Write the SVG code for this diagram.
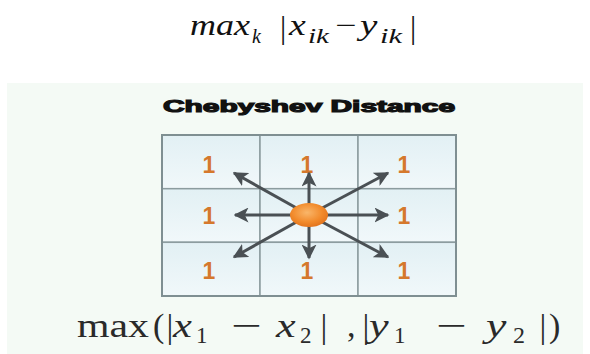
<svg xmlns="http://www.w3.org/2000/svg" width="590" height="354" viewBox="0 0 590 354">
  <defs>
    <linearGradient id="cellFill" x1="0" y1="0" x2="0" y2="1">
      <stop offset="0" stop-color="#e2f0f4"/>
      <stop offset="1" stop-color="#f1f8fa"/>
    </linearGradient>
    <radialGradient id="ballFill" cx="0.45" cy="0.4" r="0.65">
      <stop offset="0" stop-color="#f9b66a"/>
      <stop offset="0.6" stop-color="#f28b2c"/>
      <stop offset="1" stop-color="#e0701a"/>
    </radialGradient>
    <marker id="ah" viewBox="0 0 10 10" refX="9" refY="5" markerWidth="5" markerHeight="5" orient="auto" markerUnits="strokeWidth">
      <path d="M0,0 L10,5 L0,10 L2.5,5 Z" fill="#4a5054"/>
    </marker>
    <style>
      .cell { fill: url(#cellFill); stroke: #8c9c9f; stroke-width: 1.5; }
      .one { font-family: "Liberation Sans", Arial, sans-serif; font-weight: bold; font-size: 23px; fill: #d5782c; text-anchor: middle; }
      .arrow { stroke: #4a5054; stroke-width: 3; fill: none; marker-end: url(#ah); }
      .cm { font-family: "Liberation Serif", "DejaVu Serif", serif; fill: #2a2a2a; }
      .mi { font-family: "Liberation Serif", "DejaVu Serif", serif; font-style: italic; fill: #2a2a2a; }
      .tm { font-family: "Liberation Serif", "DejaVu Serif", serif; font-style: italic; fill: #111; }
      .tc { font-family: "Liberation Serif", "DejaVu Serif", serif; fill: #111; }
    </style>
  </defs>

  <rect x="0" y="0" width="590" height="354" fill="#ffffff"/>

  <g id="top-formula">
    <text class="tm" x="190" y="35" font-size="29" textLength="60" lengthAdjust="spacingAndGlyphs">max</text>
    <text class="tm" x="252" y="43" font-size="20">k</text>
    <text class="tc" x="283" y="38" font-size="31" text-anchor="middle">|</text>
    <text class="tm" transform="translate(289,35) scale(1.3,1)" font-size="29">x</text>
    <text class="tm" x="308" y="43" font-size="20" textLength="21" lengthAdjust="spacingAndGlyphs">ik</text>
    <text class="tc" transform="translate(346,35) scale(1.3,1)" font-size="29" text-anchor="middle">−</text>
    <text class="tm" transform="translate(360,35) scale(1.35,1)" font-size="29">y</text>
    <text class="tm" x="380" y="43" font-size="20" textLength="22" lengthAdjust="spacingAndGlyphs">ik</text>
    <text class="tc" x="413" y="38" font-size="31" text-anchor="middle">|</text>
  </g>

  <rect id="panel" x="7" y="83" width="576" height="271" fill="#f4faf5"/>

  <g id="title">
    <text x="163" y="112" font-family="'Liberation Sans', Arial, sans-serif" font-weight="bold" font-size="17" fill="#111" stroke="#111" stroke-width="1.2" textLength="292" lengthAdjust="spacingAndGlyphs">Chebyshev Distance</text>
  </g>

  <g id="grid">
    <g id="cell-0-0"><rect class="cell" x="162" y="135" width="98" height="53.7"/><text class="one" x="209" y="173">1</text></g>
    <g id="cell-0-1"><rect class="cell" x="260" y="135" width="98" height="53.7"/><text class="one" x="307" y="173">1</text></g>
    <g id="cell-0-2"><rect class="cell" x="358" y="135" width="98" height="53.7"/><text class="one" x="404" y="173">1</text></g>
    <g id="cell-1-0"><rect class="cell" x="162" y="188.7" width="98" height="53.6"/><text class="one" x="209" y="224">1</text></g>
    <g id="cell-1-1"><rect class="cell" x="260" y="188.7" width="98" height="53.6"/></g>
    <g id="cell-1-2"><rect class="cell" x="358" y="188.7" width="98" height="53.6"/><text class="one" x="404" y="224">1</text></g>
    <g id="cell-2-0"><rect class="cell" x="162" y="242.3" width="98" height="53.7"/><text class="one" x="209" y="279">1</text></g>
    <g id="cell-2-1"><rect class="cell" x="260" y="242.3" width="98" height="53.7"/><text class="one" x="307" y="279">1</text></g>
    <g id="cell-2-2"><rect class="cell" x="358" y="242.3" width="98" height="53.7"/><text class="one" x="404" y="279">1</text></g>
    <rect x="162" y="135" width="294" height="161" fill="none" stroke="#7f8f92" stroke-width="2"/>
  </g>

  <g id="connectors">
    <line class="arrow" x1="309" y1="215" x2="309" y2="173"/>
    <line class="arrow" x1="309" y1="215" x2="309" y2="258"/>
    <line class="arrow" x1="309" y1="215" x2="235" y2="215"/>
    <line class="arrow" x1="309" y1="215" x2="388" y2="215"/>
    <line class="arrow" x1="309" y1="215" x2="234" y2="173"/>
    <line class="arrow" x1="309" y1="215" x2="388" y2="173"/>
    <line class="arrow" x1="309" y1="215" x2="234" y2="257"/>
    <line class="arrow" x1="309" y1="215" x2="388" y2="257"/>
  </g>

  <g id="center">
    <ellipse cx="309" cy="215" rx="19" ry="12" fill="url(#ballFill)"/>
  </g>

  <g id="bottom-formula">
    <text class="cm" x="77" y="337" font-size="34" textLength="72" lengthAdjust="spacingAndGlyphs">max</text>
    <text class="cm" x="153" y="337" font-size="34">(</text>
    <text class="cm" x="170" y="338" font-size="34" text-anchor="middle">|</text>
    <text class="mi" transform="translate(173,337) scale(1.25,1)" font-size="34">x</text>
    <text class="cm" x="196" y="343" font-size="23">1</text>
    <text class="cm" transform="translate(246,337) scale(1.6,1)" font-size="34" text-anchor="middle">−</text>
    <text class="mi" transform="translate(276,337) scale(1.3,1)" font-size="34">x</text>
    <text class="cm" x="300" y="343" font-size="23">2</text>
    <text class="cm" x="324" y="338" font-size="34" text-anchor="middle">|</text>
    <text class="cm" x="347" y="337" font-size="34">,</text>
    <text class="cm" x="366" y="338" font-size="34" text-anchor="middle">|</text>
    <text class="mi" transform="translate(369,337) scale(1.3,1)" font-size="34">y</text>
    <text class="cm" x="394" y="343" font-size="23">1</text>
    <text class="cm" transform="translate(451,337) scale(1.6,1)" font-size="34" text-anchor="middle">−</text>
    <text class="mi" transform="translate(486,337) scale(1.35,1)" font-size="34">y</text>
    <text class="cm" x="513" y="343" font-size="24">2</text>
    <text class="cm" x="543" y="338" font-size="34" text-anchor="middle">|</text>
    <text class="cm" x="549" y="337" font-size="34">)</text>
  </g>
</svg>
